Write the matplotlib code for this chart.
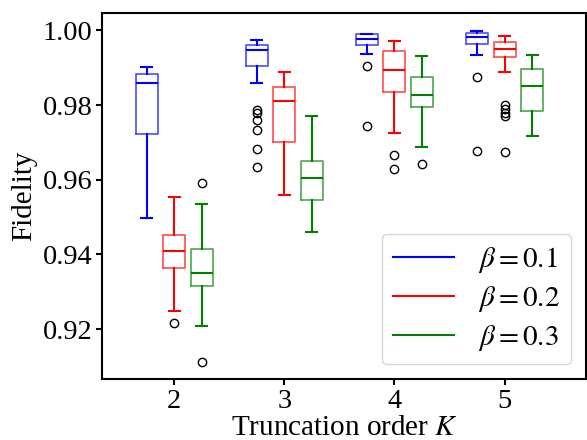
import matplotlib
matplotlib.use("Agg")
import matplotlib.pyplot as plt
from matplotlib.lines import Line2D

plt.rcParams['font.family'] = ['Liberation Serif', 'DejaVu Serif']
plt.rcParams['mathtext.fontset'] = 'stix'

K_values = [2, 3, 4, 5]
betas = ["0.1", "0.2", "0.3"]
colors = ["blue", "red", "green"]

# per beta: lists over K
whislo = [
    [0.9497, 0.9860, 0.9938, 0.9934],
    [0.9247, 0.9558, 0.9726, 0.9890],
    [0.9209, 0.9461, 0.9689, 0.9718],
]
q1 = [
    [0.9722, 0.9905, 0.9961, 0.9965],
    [0.9364, 0.9700, 0.9836, 0.9929],
    [0.9315, 0.9546, 0.9795, 0.9783],
]
med = [
    [0.9860, 0.9949, 0.9977, 0.9982],
    [0.9408, 0.9812, 0.9895, 0.9950],
    [0.9349, 0.9605, 0.9827, 0.9851],
]
q3 = [
    [0.9884, 0.9961, 0.9990, 0.9993],
    [0.9451, 0.9849, 0.9946, 0.9970],
    [0.9415, 0.9651, 0.9876, 0.9897],
]
whishi = [
    [0.9901, 0.9975, 0.9991, 0.9999],
    [0.9554, 0.9890, 0.9972, 0.9986],
    [0.9536, 0.9771, 0.9932, 0.9935],
]
fliers = [
    [[], [0.9788, 0.9780, 0.9761, 0.9734, 0.9682, 0.9635], [0.9905, 0.9745], [0.9876, 0.9678]],
    [[0.9216], [], [0.9665, 0.9629], [0.9801, 0.9789, 0.9778, 0.9770, 0.9674]],
    [[0.9591, 0.9112], [], [0.9643], []],
]
offsets = [-0.25, 0.0, 0.25]

fig = plt.figure(figsize=(5.87, 4.40), dpi=100)
ax = fig.add_axes([0.1738, 0.1386, 0.8245, 0.832])

for b in range(3):
    stats = []
    for k in range(len(K_values)):
        stats.append(dict(med=med[b][k], q1=q1[b][k], q3=q3[b][k],
                          whislo=whislo[b][k], whishi=whishi[b][k],
                          fliers=fliers[b][k]))
    c = colors[b]
    ax.bxp(stats, positions=[K + offsets[b] for K in K_values], widths=0.2,
           manage_ticks=False,
           boxprops=dict(color=c, linewidth=1.2, alpha=0.7),
           whiskerprops=dict(color=c, linewidth=1.5),
           capprops=dict(color=c, linewidth=1.5),
           medianprops=dict(color=c, linewidth=1.5),
           flierprops=dict(marker='o', markerfacecolor='none',
                           markeredgecolor='black', markersize=6))

ax.set_xlim(1.345, 5.74)
ax.set_ylim(0.9066, 1.0047)
ax.set_xticks(K_values)
ax.set_xticklabels([str(k) for k in K_values])
ax.set_yticks([0.92, 0.94, 0.96, 0.98, 1.00])
ax.set_yticklabels(["0.92", "0.94", "0.96", "0.98", "1.00"])
ax.tick_params(labelsize=20.5, width=1.5, length=4, pad=3)
for s in ax.spines.values():
    s.set_linewidth(1.5)
ax.set_xlabel(r"Truncation order $K$", fontsize=21, labelpad=1)
ax.set_ylabel("Fidelity", fontsize=21, labelpad=4)

handles = [Line2D([0], [0], color=c, linewidth=1.5) for c in colors]
labels = [r"$\beta = %s$" % b for b in betas]
ax.legend(handles, labels, loc='lower right', fontsize=21, handlelength=2.1,
          handletextpad=0.8, borderpad=0.4, labelspacing=0.3)

fig.savefig("out.png", dpi=100)
